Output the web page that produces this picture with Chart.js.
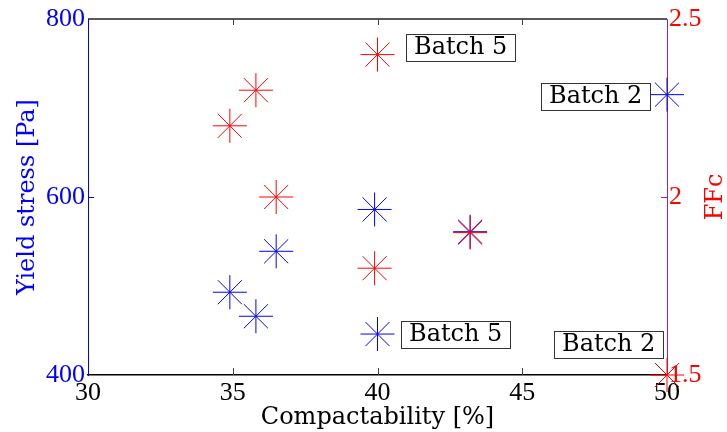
<!DOCTYPE html>
<html>
<head>
<meta charset="utf-8">
<script src="https://cdn.jsdelivr.net/npm/chart.js@4/dist/chart.umd.min.js"></script>
<style>
  html, body { margin: 0; padding: 0; background: #fff; }
  #wrap { width: 727px; height: 432px; }
</style>
</head>
<body>
<div id="wrap"><canvas id="chart" width="727" height="432"></canvas></div>
<script>
// data
const compactability = [34.9, 35.8, 36.5, 39.9, 40.0, 43.2, 50.0];
const yieldStress = [493, 466, 539, 586, 446, 561, 715];
const ffc = [2.2, 2.3, 2.0, 1.8, 2.4, 1.9, 1.5];

const xTicks = [30, 35, 40, 45, 50];
const yTicks = [400, 600, 800];
const y2Ticks = [1.5, 2, 2.5];

// text boxes (left edge x, centre y, which axis)
const noteText = ['Batch 5', 'Batch 2', 'Batch 5', 'Batch 2'];
const noteX = [41.0, 45.65, 40.8, 46.1];
const noteY = [2.42, 714, 446, 1.587];
const noteAxis = ['y2', 'y', 'y', 'y2'];

const BLUE = '#0000ff';
const RED = '#ff0000';
const RIGHT_AXIS = 'rgb(160,40,110)';
const serif = '"DejaVu Serif", serif';
const tickFamily = '"Liberation Serif", "Times New Roman", serif';

const extras = {
  id: 'extras',
  afterDraw(chart) {
    const ctx = chart.ctx;
    const a = chart.chartArea;
    const sx = chart.scales.x, sy = chart.scales.y, sy2 = chart.scales.y2;
    ctx.save();

    // top frame line
    ctx.strokeStyle = '#222';
    ctx.lineWidth = 1.5;
    ctx.beginPath();
    ctx.moveTo(a.left, a.top);
    ctx.lineTo(a.right, a.top);
    ctx.stroke();

    // inward ticks
    ctx.lineWidth = 1;
    ctx.strokeStyle = '#444';
    xTicks.slice(1, -1).forEach(v => {
      const px = Math.round(sx.getPixelForValue(v)) + 0.5;
      ctx.beginPath();
      ctx.moveTo(px, a.bottom); ctx.lineTo(px, a.bottom - 7);
      ctx.moveTo(px, a.top); ctx.lineTo(px, a.top + 6);
      ctx.stroke();
    });
    ctx.strokeStyle = BLUE;
    yTicks.slice(1, -1).forEach(v => {
      const py = Math.round(sy.getPixelForValue(v)) + 0.5;
      ctx.beginPath();
      ctx.moveTo(a.left, py); ctx.lineTo(a.left + 6, py);
      ctx.stroke();
    });
    ctx.strokeStyle = RIGHT_AXIS;
    y2Ticks.slice(1, -1).forEach(v => {
      const py = Math.round(sy2.getPixelForValue(v)) + 0.5;
      ctx.beginPath();
      ctx.moveTo(a.right, py); ctx.lineTo(a.right - 6, py);
      ctx.stroke();
    });

    // labelled boxes
    ctx.font = '24px ' + serif;
    ctx.textBaseline = 'middle';
    ctx.textAlign = 'left';
    noteText.forEach((t, i) => {
      const scale = chart.scales[noteAxis[i]];
      const left = Math.round(sx.getPixelForValue(noteX[i]));
      const cy = Math.round(scale.getPixelForValue(noteY[i]));
      const w = Math.round(ctx.measureText(t).width + 16);
      const h = 27;
      ctx.fillStyle = '#fff';
      ctx.fillRect(left, cy - h / 2, w, h);
      ctx.strokeStyle = '#333';
      ctx.lineWidth = 1;
      ctx.strokeRect(left + 0.5, Math.round(cy - h / 2) + 0.5, w, h);
      ctx.fillStyle = '#000';
      ctx.fillText(t, left + 8, cy + 1);
    });

    // right axis title, reads bottom to top
    ctx.translate(716, (a.top + a.bottom) / 2);
    ctx.rotate(-Math.PI / 2);
    ctx.textAlign = 'center';
    ctx.fillStyle = RED;
    ctx.fillText('FFc', 0, 0);
    ctx.restore();
  }
};

new Chart(document.getElementById('chart'), {
  type: 'scatter',
  data: {
    datasets: [{
      label: 'Yield stress',
      data: compactability.map((c, i) => ({ x: c, y: yieldStress[i] })),
      yAxisID: 'y',
      order: 1,
      pointStyle: 'star',
      pointRadius: 17,
      pointHoverRadius: 17,
      borderColor: BLUE,
      backgroundColor: BLUE,
      borderWidth: 1,
      clip: false
    }, {
      label: 'FFc',
      data: compactability.map((c, i) => ({ x: c, y: ffc[i] })),
      yAxisID: 'y2',
      order: 0,
      pointStyle: 'star',
      pointRadius: 17,
      pointHoverRadius: 17,
      borderColor: RED,
      backgroundColor: RED,
      borderWidth: 1,
      clip: false
    }]
  },
  options: {
    responsive: false,
    animation: false,
    events: [],
    layout: { padding: { top: 19, left: 0, right: 0, bottom: 0 } },
    plugins: { legend: { display: false }, tooltip: { enabled: false } },
    scales: {
      x: {
        type: 'linear',
        min: 30, max: 50,
        afterBuildTicks: s => { s.ticks = xTicks.map(v => ({ value: v })); },
        afterFit: s => { s.height = 57; },
        grid: { display: false, drawTicks: false },
        border: { display: true, color: '#000', width: 1.5 },
        ticks: { color: '#000', font: { family: tickFamily, size: 26 }, padding: 3,
                 maxRotation: 0, autoSkip: false, callback: v => String(v) },
        title: { display: true, text: 'Compactability [%]', color: '#000',
                 font: { family: serif, size: 24 }, padding: { top: 0, bottom: 0 } }
      },
      y: {
        type: 'linear',
        position: 'left',
        min: 400, max: 800,
        afterBuildTicks: s => { s.ticks = yTicks.map(v => ({ value: v })); },
        afterFit: s => { s.width = 88; },
        grid: { display: false, drawTicks: false },
        border: { display: true, color: BLUE, width: 1 },
        ticks: { color: BLUE, font: { family: tickFamily, size: 26 }, padding: 3,
                 callback: v => String(v) },
        title: { display: true, text: 'Yield stress [Pa]', color: BLUE,
                 font: { family: serif, size: 24 }, padding: { top: 13, bottom: 0 } }
      },
      y2: {
        type: 'linear',
        position: 'right',
        min: 1.5, max: 2.5,
        afterBuildTicks: s => { s.ticks = y2Ticks.map(v => ({ value: v })); },
        afterFit: s => { s.width = 60; },
        grid: { display: false, drawTicks: false },
        border: { display: true, color: RIGHT_AXIS, width: 1 },
        ticks: { color: RED, font: { family: tickFamily, size: 26 }, padding: 2,
                 callback: v => String(v) }
      }
    }
  },
  plugins: [extras]
});
</script>
</body>
</html>
